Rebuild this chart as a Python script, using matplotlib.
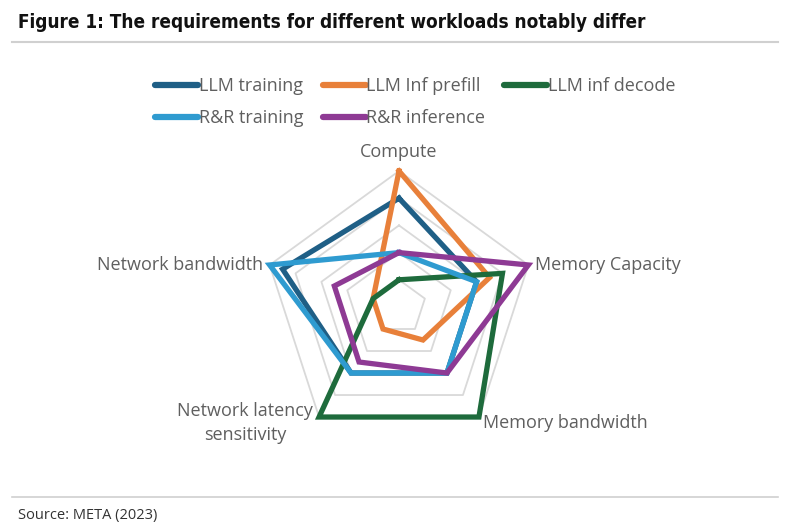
import matplotlib
matplotlib.use("Agg")
import matplotlib.pyplot as plt
from matplotlib.lines import Line2D
import numpy as np

# axes of the radar, clockwise from the top
axes_names = ["Compute", "Memory Capacity", "Memory bandwidth",
              "Network latency\nsensitivity", "Network bandwidth"]

llm_training = [4, 3, 3, 3, 4.5]
llm_prefill = [5, 3.5, 1.5, 1, 1]
llm_decode = [1, 4, 5, 5, 1]
rr_training = [2, 3, 3, 3, 5]
rr_inference = [2, 5, 3, 2.5, 2.5]

series_names = ["LLM training", "LLM Inf prefill", "LLM inf decode",
                "R&R training", "R&R inference"]
colors = ["#1f5f86", "#e8803a", "#1e6b3c", "#2f9bd0", "#8e3a94"]

rings = [1, 2, 3, 4, 5]

W, H = 792, 531
fig = plt.figure(figsize=(W / 100, H / 100), dpi=100)

# radar area: centre at (399, 307) px, 5 units = 136 px
cx, cy, unit = 399, 307, 27.2
half = 5.6
ax = fig.add_axes([(cx - half * unit) / W, (H - cy - half * unit) / H,
                   2 * half * unit / W, 2 * half * unit / H])
ax.set_xlim(-half, half)
ax.set_ylim(-half, half)
ax.axis("off")

angles = np.deg2rad(90 - 72 * np.arange(5))

def closed(vals):
    v = np.array(list(vals) + [vals[0]], dtype=float)
    a = np.append(angles, angles[0])
    return v * np.cos(a), v * np.sin(a)

for r in rings:
    x, y = closed([r] * 5)
    ax.plot(x, y, color="#d9d9d9", lw=1.3, zorder=1)

data = [llm_training, llm_prefill, llm_decode, rr_training, rr_inference]
for name, vals, c in zip(series_names, data, colors):
    x, y = closed(vals)
    ax.plot(x, y, color=c, lw=3.8, solid_joinstyle="miter", zorder=3,
            label=name)

txt = dict(color="#5f5f5f", fontsize=13, family="Open Sans")
offsets = [((0, 19), "center", "center"),
           ((7, 0), "left", "center"),
           ((4, -6), "left", "center"),
           ((-6, -6), "right", "center"),
           ((-7, 0), "right", "center")]
for name, a, (off, ha, va) in zip(axes_names, angles, offsets):
    ax.annotate(name, (5 * np.cos(a), 5 * np.sin(a)), xytext=off,
                textcoords="offset pixels", ha=ha, va=va,
                multialignment="center", linespacing=1.4, **txt)

# legend, row-major order like the source
order = [0, 3, 1, 4, 2]
handles = [Line2D([], [], color=colors[i], lw=4.5, solid_capstyle="round")
           for i in order]
fig.legend(handles, [series_names[i] for i in order], ncol=3,
           loc="upper left", bbox_to_anchor=(139 / W, 1 - 61 / H),
           frameon=False, handlelength=2.38, handletextpad=0.05,
           columnspacing=1.05, labelspacing=0.78,
           prop={"family": "Open Sans", "size": 13},
           labelcolor="#5f5f5f")

fig.text(18 / W, 1 - 23 / H,
         "Figure 1: The requirements for different workloads notably differ",
         fontsize=13.6, fontweight="bold", family="DejaVu Sans",
         fontstretch="condensed", color="#111111", va="center")
fig.add_artist(Line2D([12 / W, 778 / W], [1 - 42 / H, 1 - 42 / H],
                      color="#d0d0d0", lw=1.5))
fig.add_artist(Line2D([12 / W, 778 / W], [1 - 497 / H, 1 - 497 / H],
                      color="#d0d0d0", lw=1.2))
fig.text(18 / W, 1 - 516 / H, "Source: META (2023)", fontsize=10.5,
         family="Open Sans", color="#333333", va="center")

fig.savefig("out.png", dpi=100, facecolor="white")
